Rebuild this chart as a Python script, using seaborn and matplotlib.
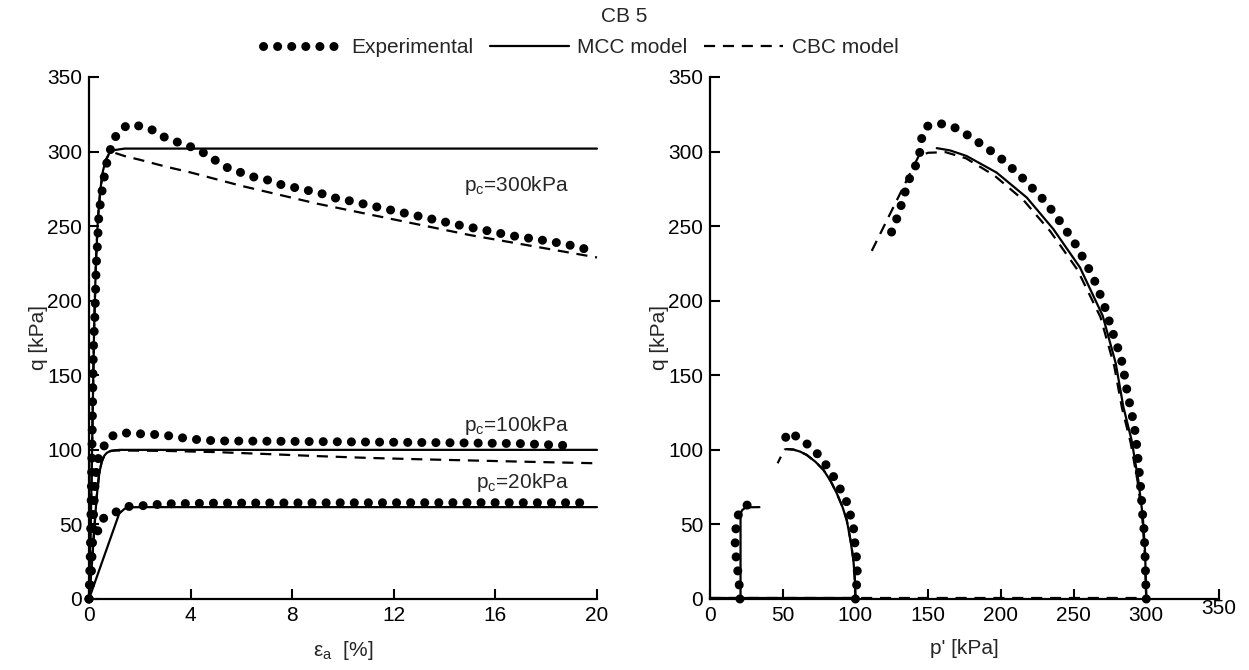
import numpy as np
import pandas as pd
import matplotlib
matplotlib.use("Agg")
import matplotlib.pyplot as plt
import matplotlib.transforms as mtransforms
from matplotlib.lines import Line2D
import seaborn as sns

# ---------------- data: left panel (q vs axial strain) ----------------
exp300_ea = [0, 0.05, 0.1, 0.14, 0.17, 0.24, 0.28, 0.34, 0.39, 0.47, 0.54, 0.63, 0.73, 0.89, 1.10,
             1.52, 2.07, 2.57, 3.03, 3.54, 4.04, 4.53, 4.99, 5.47, 5.97, 6.48, 7.02, 7.53, 8.06,
             8.6, 9.12, 9.66, 10.25, 11.3, 12.35, 13.43, 14.48, 15.55, 16.63, 17.7, 18.75, 19.8]
exp300_q = [0, 30, 80, 130, 166, 193, 222, 240, 258, 268, 277, 286, 295, 304, 312,
            318, 317, 314, 309, 306, 303, 299, 294, 289, 286, 283, 281, 278, 276,
            274, 272, 269, 267, 263, 259, 255, 251, 247.4, 243.6, 241, 238, 233.6]

exp100_ea = [0, 0.1, 0.15, 0.2, 0.25, 0.33, 0.43, 0.54, 0.8, 1.29, 1.82, 2.37, 2.93, 3.45, 4.0,
             4.53, 5.07, 7, 10, 14, 17, 18.67]
exp100_q = [0, 20, 45, 65, 80, 92, 98, 101, 108.6, 111.5, 110.9, 110.5, 110, 108.6, 107.3,
            106.5, 106, 105.8, 105.4, 104.8, 104.2, 103]

exp20_ea = [0, 0.07, 0.1, 0.13, 0.2, 0.37, 0.56, 1.02, 1.52, 2.05, 3, 5, 10, 15, 19.46]
exp20_q = [0, 15, 30, 40, 44, 46, 54, 58, 62, 62.5, 63.8, 64.3, 64.5, 64.6, 64.5]

mcc300_ea = [0, 0.08, 0.14, 0.2, 0.27, 0.35, 0.45, 0.55, 0.65, 0.8, 1.0, 1.4, 20]
mcc300_q = [0, 60, 120, 180, 225, 255, 275, 287, 294, 299, 301, 302, 302]

cbc300_ea = [0, 0.08, 0.14, 0.2, 0.27, 0.35, 0.45, 0.55, 0.65, 0.8, 0.95, 1.4, 2, 3, 4, 5, 6, 7,
             8, 9, 10, 11, 12, 13, 14, 15, 16, 17, 18, 19, 20]
cbc300_q = [0, 60, 120, 180, 225, 255, 275, 287, 294, 298.5, 299.5, 297, 294.5, 290, 286, 281.5,
            277, 273, 269, 265, 261.5, 258, 254.5, 251, 247.5, 244, 241, 238, 235, 232, 229]

mcc100_ea = [0, 0.1, 0.2, 0.3, 0.4, 0.5, 0.6, 0.7, 0.85, 1.2, 20]
mcc100_q = [0, 20, 45, 68, 84, 92, 96, 98, 99.3, 100, 100]

cbc100_ea = [0, 0.1, 0.2, 0.3, 0.4, 0.5, 0.6, 0.7, 0.85, 1.0, 3, 5, 7, 9, 11, 13, 15, 17, 20]
cbc100_q = [0, 20, 45, 68, 84, 92, 96, 98, 99.2, 99.6, 99.3, 98.5, 97.2, 95.8, 94.6, 93.7,
            92.9, 92.1, 91]

mcc20_ea = [0, 1.19, 1.4, 1.61, 2.2, 20]
mcc20_q = [0, 57.3, 60.5, 61.5, 61.6, 61.6]

# ---------------- data: right panel (q vs p') ----------------
exp300_p = [300, 299.7, 299.2, 298.5, 297.6, 296.2, 294.5, 292.7, 291.1, 289.3, 287.2, 283.8,
            281.4, 278.5, 275.5, 272.8, 270, 266.3, 262.9, 258.5, 253.9, 249.1, 243.4, 238.4,
            232.6, 226.4, 220, 213.2, 206.3, 199.4, 191.4, 183.4, 175.6, 167.3, 158.2, 149.4,
            145.6, 144.4, 141.6, 137.5, 134.5, 131.8, 129, 125.6, 122.2]
exp300_qp = [0, 9, 28, 46, 55, 74, 92, 110, 119, 128, 137, 157,
             165.5, 174, 183, 192, 200, 209, 217, 225, 233.6, 241.4, 249, 256.4,
             263.7, 271, 277, 284, 290, 296, 301.6, 307, 312, 316.6, 318.8, 317,
             309, 300, 291, 282.7, 274, 265, 256.4, 248, 239.2]

exp100_p = [100, 100.4, 100.8, 101.3, 100.8, 99.7, 99, 96.9, 94.7, 90.5, 85.9, 80.9, 75.6,
            68.8, 61.2, 53.2, 51.1]
exp100_qp = [0, 3, 9.2, 18, 27.4, 36.8, 46, 55, 63.6, 72, 80.6, 88.4, 95.6,
             102.3, 108.3, 111.7, 105.7]

exp20_p = [20.6, 20.2, 19.5, 18.3, 17.6, 17.2, 17.9, 19.5, 22.9, 29.1, 31]
exp20_qp = [0, 8, 16, 24.3, 32, 40, 48.2, 56.5, 62.3, 63.9, 64.5]

mcc300_p = [300, 299.2, 297.6, 294.5, 289.9, 284.2, 279, 270, 254.4, 236.1, 217.8, 197.1,
            176.5, 165, 155.9]
mcc300_qp = [0, 30.8, 55.4, 79.7, 106.5, 129, 158, 190, 222.3, 248, 269.2, 285.9,
             297, 300.8, 302.3]

cbc300_p = [300, 299, 297.2, 294, 289.2, 283.3, 278, 268.5, 252.5, 234, 215.5, 195.5, 176,
            162, 150, 143.5, 109.5]
cbc300_qp = [0, 30, 55, 79, 105, 128, 156, 189, 221, 246.5, 267.5, 284, 295.5,
             299.6, 299.2, 297, 230]

mcc100_p = [100, 99.6, 98.6, 96.5, 94, 91, 87.1, 83, 78, 72.5, 66.5, 62, 57.3, 53]
mcc100_qp = [0, 13, 26.3, 40, 53, 62, 71, 79, 86.6, 92, 96.6, 98.8, 100.2, 100.5]

cbc100_p = [100, 99.6, 98.6, 96.5, 94, 91, 87.1, 83, 78, 72.5, 66.5, 62, 57.3, 53, 51.5, 49, 46.5]
cbc100_qp = [0, 13, 26.3, 40, 53, 62, 71, 79, 86.6, 92, 96.6, 98.8, 100.2, 100.5, 100.3, 96, 91]

mcc20_p = [21, 21, 22, 24, 27, 34]
mcc20_qp = [0, 57, 59.5, 61, 61.5, 61.6]

iso_cbc_p = [0, 300]
iso_cbc_q = [1, 1]
iso_mcc_p = [0, 100]
iso_mcc_q = [0.5, 0.5]

left_xticks = [0, 4, 8, 12, 16, 20]
right_xticks = [0, 50, 100, 150, 200, 250, 300, 350]
yticks = [0, 50, 100, 150, 200, 250, 300, 350]

# ---------------- styling ----------------
sns.set_style("ticks")
plt.rcParams['font.family'] = ['Liberation Sans', 'DejaVu Sans']
plt.rcParams['mathtext.fontset'] = 'custom'
plt.rcParams['mathtext.rm'] = 'Liberation Sans'
plt.rcParams['mathtext.it'] = 'Liberation Sans'
FS = 15

EXP = dict(linewidth=6.5, linestyle=(0, (0.01, 1.55)), dash_capstyle='round')
MCC = dict(linewidth=1.6, linestyle='-')
CBC = dict(linewidth=1.6, linestyle=(0, (5, 3.5)))

fig = plt.figure(figsize=(12.49, 6.70), dpi=100)
axL = fig.add_axes([89 / 1249, 71 / 670, 508 / 1249, 522 / 670])
axR = fig.add_axes([710 / 1249, 71 / 670, 509 / 1249, 522 / 670])


def draw(ax, x, y, style):
    df = pd.DataFrame({"x": x, "y": y})
    sns.lineplot(data=df, x="x", y="y", ax=ax, sort=False, estimator=None,
                 color="black", clip_on=False, **style)


# left panel
draw(axL, mcc300_ea, mcc300_q, MCC)
draw(axL, cbc300_ea, cbc300_q, CBC)
draw(axL, mcc100_ea, mcc100_q, MCC)
draw(axL, cbc100_ea, cbc100_q, CBC)
draw(axL, mcc20_ea, mcc20_q, MCC)
draw(axL, exp300_ea, exp300_q, EXP)
draw(axL, exp100_ea, exp100_q, EXP)
draw(axL, exp20_ea, exp20_q, EXP)

# right panel
draw(axR, iso_mcc_p, iso_mcc_q, MCC)
draw(axR, iso_cbc_p, iso_cbc_q, CBC)
draw(axR, mcc300_p, mcc300_qp, MCC)
draw(axR, cbc300_p, cbc300_qp, CBC)
draw(axR, mcc100_p, mcc100_qp, MCC)
draw(axR, cbc100_p, cbc100_qp, CBC)
draw(axR, mcc20_p, mcc20_qp, MCC)
draw(axR, exp300_p, exp300_qp, EXP)
draw(axR, exp100_p, exp100_qp, EXP)
draw(axR, exp20_p, exp20_qp, EXP)

for ax in (axL, axR):
    sns.despine(ax=ax)
    ax.set_ylim(0, 350)
    ax.set_yticks(yticks)
    for s in ("left", "bottom"):
        ax.spines[s].set_linewidth(1.6)
        ax.spines[s].set_color("black")
    ax.tick_params(direction="in", length=7.5, width=1.5, labelsize=FS, pad=5,
                   color="black", labelcolor="black")
    ax.set_ylabel("q [kPa]", fontsize=FS, labelpad=-1)

axL.set_xlim(0, 20)
axL.set_xticks(left_xticks)
axL.set_xlabel("ε$_\\mathregular{a}$  [%]", fontsize=FS, labelpad=10)

axR.set_xlim(0, 350)
axR.set_xticks(right_xticks)
axR.set_xlabel("p' [kPa]", fontsize=FS, labelpad=10)
# the last tick label sits slightly higher in the original
lab = axR.xaxis.get_major_ticks()[-1].label1
lab.set_transform(lab.get_transform() + mtransforms.ScaledTranslation(0, 5 / 72, fig.dpi_scale_trans))

# annotations
axL.text(18.9, 277, "p$_\\mathregular{c}$=300kPa", ha="right", va="center", fontsize=FS)
axL.text(18.9, 116, "p$_\\mathregular{c}$=100kPa", ha="right", va="center", fontsize=FS)
axL.text(18.9, 78, "p$_\\mathregular{c}$=20kPa", ha="right", va="center", fontsize=FS)

# title and legend
fig.text(0.5, 0.975, "CB 5", ha="center", va="center", fontsize=FS)
handles = [Line2D([], [], color="black", **EXP),
           Line2D([], [], color="black", **MCC),
           Line2D([], [], color="black", **CBC)]
fig.legend(handles, ["Experimental", "MCC model", "CBC model"], loc="center",
           bbox_to_anchor=(0.465, 0.929), ncol=3, frameon=False, handlelength=3.8,
           columnspacing=0.8, handletextpad=0.4, fontsize=FS)

fig.savefig("out.png", dpi=100)
